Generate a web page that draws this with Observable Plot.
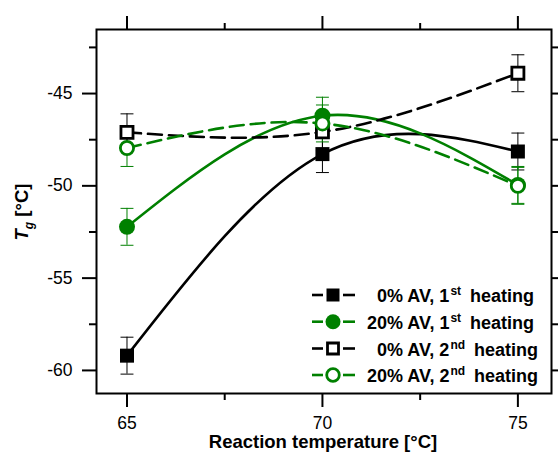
<!DOCTYPE html>
<html><head><meta charset="utf-8">
<script src="https://cdn.jsdelivr.net/npm/d3@7"></script>
<script src="https://cdn.jsdelivr.net/npm/@observablehq/plot@0.6"></script>
<style>
body{margin:0;background:#fff}
#chart{position:relative;width:558px;height:453px}
</style>
</head><body><div id="chart"></div>
<script>
// ---- data ----
const temps = [65, 70, 75];
const av0_1st = [-59.2, -48.28, -48.14];
const av20_1st = [-52.22, -46.2, -49.95];
const av0_2nd = [-47.1, -47.08, -43.9];
const av20_2nd = [-47.95, -46.62, -50.0];
const err0_1st = [1.0, 1.0, 1.0];
const err20_1st = [1.0, 1.0, 1.0];
const err0_2nd = [1.0, 1.0, 1.0];
const err20_2nd = [1.0, 1.0, 1.0];
const seriesLabels = ["0% AV, 1", "20% AV, 1", "0% AV, 2", "20% AV, 2"];
const seriesSup = ["st", "st", "nd", "nd"];
const xMajor = [65, 70, 75];
const xMinor = [67.5, 72.5];
const yMajor = [-60, -55, -50, -45];
const yMinor = [-57.5, -52.5, -47.5, -42.5];

// ---- styles ----
const GREEN = "#008000";
const styles = [
  {color: "black", dashed: false, symbol: "square", filled: true},
  {color: GREEN, dashed: false, symbol: "circle", filled: true},
  {color: "black", dashed: true, symbol: "square", filled: false},
  {color: GREEN, dashed: true, symbol: "circle", filled: false}
];
const values = [av0_1st, av20_1st, av0_2nd, av20_2nd];
const errors = [err0_1st, err20_1st, err0_2nd, err20_2nd];

const rows = [];
values.forEach((vals, s) => vals.forEach((v, i) => rows.push({s, x: temps[i], y: v, e: errors[s][i]})));
const bySeries = s => rows.filter(d => d.s === s);

const capSymbol = {draw(ctx, size) { const w = Math.sqrt(size) / 2; ctx.moveTo(-w, 0); ctx.lineTo(w, 0); }};

const marks = [];
// lines
[0, 1, 2, 3].forEach(s => {
  const st = styles[s];
  marks.push(Plot.line(bySeries(s), {x: "x", y: "y", curve: "natural", stroke: st.color, strokeWidth: 2.6,
    strokeDasharray: st.dashed ? "14,7" : null}));
});
// error bars
[0, 2, 1, 3].forEach(s => {
  const st = styles[s];
  const d = bySeries(s);
  marks.push(Plot.ruleX(d, {x: "x", y1: r => r.y - r.e, y2: r => r.y + r.e, stroke: st.color, strokeWidth: 1}));
  marks.push(Plot.dot(d, {x: "x", y: r => r.y - r.e, symbol: capSymbol, r: 7.3, stroke: st.color, strokeWidth: 1, fill: "none"}));
  marks.push(Plot.dot(d, {x: "x", y: r => r.y + r.e, symbol: capSymbol, r: 7.3, stroke: st.color, strokeWidth: 1, fill: "none"}));
});
// markers
[0, 2, 1, 3].forEach(s => {
  const st = styles[s];
  const d = bySeries(s);
  if (st.filled) {
    marks.push(Plot.dot(d, {x: "x", y: "y", symbol: st.symbol, r: st.symbol === "square" ? 7.9 : 8, fill: st.color, stroke: "none"}));
  } else {
    marks.push(Plot.dot(d, {x: "x", y: "y", symbol: st.symbol, r: st.symbol === "square" ? 6.8 : 6.6, fill: "white", stroke: st.color, strokeWidth: 2.8}));
  }
});

const fmt = d => String(d);
const plot = Plot.plot({
  width: 558, height: 453,
  marginLeft: 96, marginRight: 7, marginTop: 29, marginBottom: 60,
  style: {fontFamily: "'Liberation Sans', Arial, sans-serif", fontSize: "17.5px", color: "black", background: "white"},
  x: {domain: [64.22, 75.86]},
  y: {domain: [-61.25, -41.53]},
  marks: [
    Plot.axisX(xMajor, {anchor: "bottom", tickSize: 14, tickPadding: 9, tickFormat: fmt, strokeWidth: 2, label: null}),
    Plot.axisX(xMinor, {anchor: "bottom", tickSize: 7, tickFormat: () => "", strokeWidth: 2, label: null}),
    Plot.axisX(xMajor, {anchor: "top", tickSize: 14, tickFormat: () => "", strokeWidth: 2, label: null}),
    Plot.axisX(xMinor, {anchor: "top", tickSize: 7, tickFormat: () => "", strokeWidth: 2, label: null}),
    Plot.axisY(yMajor, {anchor: "left", tickSize: 14, tickFormat: () => "", strokeWidth: 2, label: null}),
    Plot.axisY(yMinor, {anchor: "left", tickSize: 7, tickFormat: () => "", strokeWidth: 2, label: null}),
    Plot.text(yMajor, {y: d => d, text: fmt, frameAnchor: "left", dx: -24, textAnchor: "end", fill: "black", fontSize: 17.5}),
    Plot.axisY([...yMajor, ...yMinor], {anchor: "right", tickSize: 7, tickFormat: () => "", strokeWidth: 2, label: null}),
    ...marks,
    Plot.frame({stroke: "black", strokeWidth: 2})
  ]
});
document.getElementById("chart").appendChild(plot);

// ---- titles and legend (added to the plot svg) ----
const svg = d3.select(plot);
const font = "'Liberation Sans', Arial, sans-serif";
svg.append("text").attr("x", 323).attr("y", 448).attr("text-anchor", "middle")
  .attr("font-family", font).attr("font-size", 18.5).attr("font-weight", "bold").attr("fill", "black")
  .text("Reaction temperature [°C]");
const yt = svg.append("text").attr("transform", "translate(28,212) rotate(-90)").attr("text-anchor", "middle")
  .attr("font-family", font).attr("font-size", 18.5).attr("font-weight", "bold").attr("fill", "black");
yt.append("tspan").attr("font-style", "italic").text("T");
yt.append("tspan").attr("font-style", "italic").attr("font-size", 12).attr("dy", 5).text("g");
yt.append("tspan").attr("dy", -5).text(" [°C]");

const leg = svg.append("g").attr("font-family", font).attr("font-weight", "bold").attr("font-size", 18).attr("text-anchor", "start");
const rowY = [295, 321.7, 348.5, 375];
[0, 1, 2, 3].forEach(s => {
  const st = styles[s];
  const y = rowY[s];
  leg.append("line").attr("x1", 312).attr("x2", 323).attr("y1", y).attr("y2", y).attr("stroke", st.color).attr("stroke-width", 2.6);
  leg.append("line").attr("x1", 343).attr("x2", 355).attr("y1", y).attr("y2", y).attr("stroke", st.color).attr("stroke-width", 2.6);
  const size = st.filled ? (st.symbol === "square" ? 13 * 13 : Math.PI * 7.5 * 7.5) : (st.symbol === "square" ? 11 * 11 : Math.PI * 6.3 * 6.3);
  leg.append("path").attr("transform", `translate(333,${y})`)
    .attr("d", d3.symbol(st.symbol === "square" ? d3.symbolSquare : d3.symbolCircle, size)())
    .attr("fill", st.filled ? st.color : "white").attr("stroke", st.filled ? "none" : st.color).attr("stroke-width", 2.8);
  const tx = leg.append("text").attr("x", s % 2 === 0 ? 377 : 367).attr("y", y + 7).attr("fill", "black");
  tx.append("tspan").text(seriesLabels[s]);
  tx.append("tspan").attr("font-size", 12).attr("dx", 1).attr("dy", -7).text(seriesSup[s]);
  tx.append("tspan").attr("dx", 9).attr("dy", 7).text("heating");
});
</script>
</body></html>
